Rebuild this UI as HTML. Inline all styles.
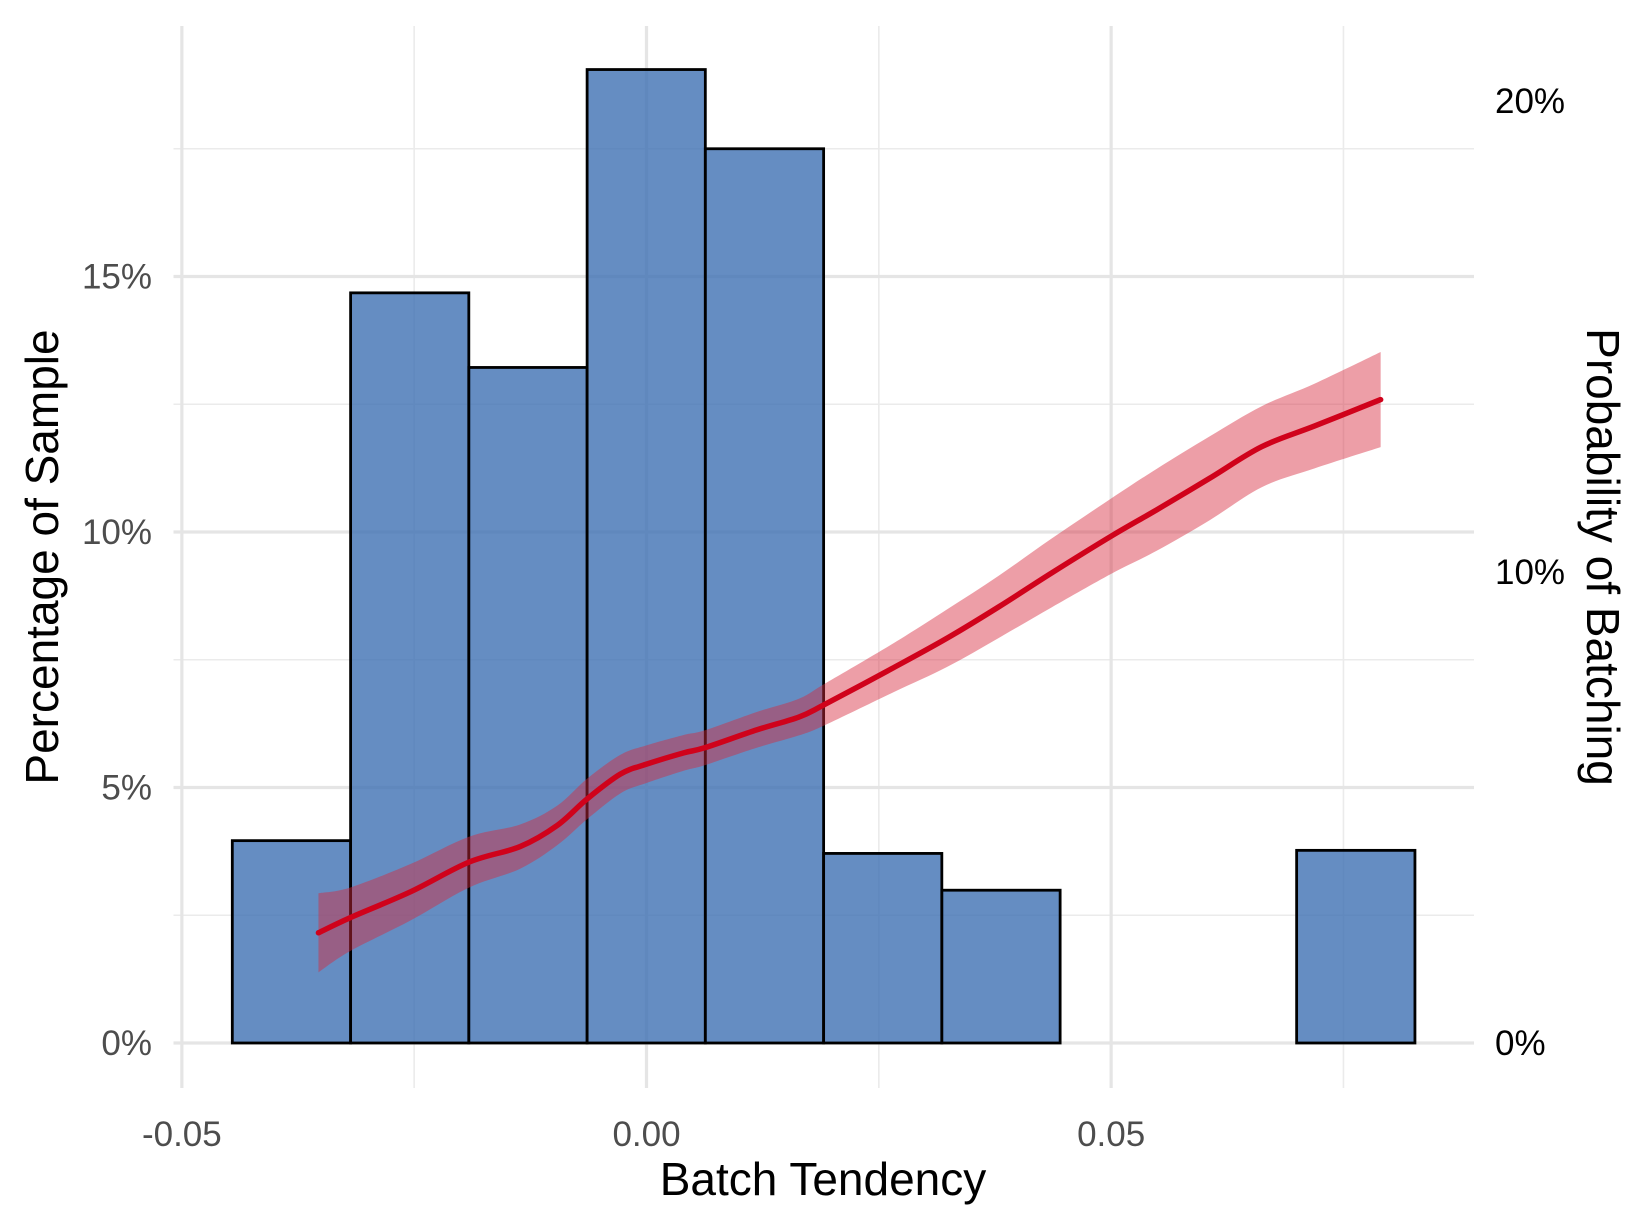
<!DOCTYPE html>
<html><head><meta charset="utf-8"><style>
html,body{margin:0;padding:0;background:#fff;}
svg{display:block;font-family:"Liberation Sans",Arial,sans-serif;}
</style></head><body>
<svg id="chart" width="1647" height="1225" viewBox="0 0 1647 1225" xmlns="http://www.w3.org/2000/svg">
<g id="grid"></g>
<g id="bars"></g>
<g id="smooth"></g>
<g id="axes"></g>
<text x="823" y="1195" text-anchor="middle" font-size="46" fill="#000">Batch Tendency</text>
<text transform="translate(58,557) rotate(-90)" text-anchor="middle" font-size="46" fill="#000">Percentage of Sample</text>
<text transform="translate(1587,557) rotate(90)" text-anchor="middle" font-size="46" fill="#000">Probability of Batching</text>
</svg>
<script>
const binEdges = [-0.04457,-0.03184,-0.01912,-0.00639,0.00633,0.01906,0.03178,0.04451,0.05724,0.06996,0.08269];
const binPct = [3.96,14.68,13.22,19.05,17.5,3.71,2.99,0,0,3.77];
const lineX = [-0.0353,-0.0319,-0.0254,-0.0191,-0.0136,-0.0096,-0.0064,-0.0028,0,0.0040,0.0063,0.0119,0.0164,0.0192,0.0266,0.0323,0.0379,0.0436,0.0500,0.0549,0.0606,0.0662,0.0719,0.0790];
const lineP = [2.34,2.66,3.21,3.84,4.17,4.62,5.18,5.71,5.92,6.16,6.27,6.65,6.92,7.19,7.97,8.59,9.26,9.98,10.76,11.32,11.99,12.66,13.1,13.66];
const lineLo = [1.5,1.95,2.6,3.3,3.7,4.2,4.75,5.3,5.52,5.78,5.9,6.27,6.53,6.75,7.45,7.98,8.6,9.25,9.96,10.45,11.1,11.8,12.2,12.65];
const lineHi = [3.18,3.3,3.8,4.38,4.64,5.04,5.61,6.12,6.32,6.54,6.64,7.03,7.31,7.63,8.49,9.2,9.92,10.71,11.56,12.19,12.88,13.52,14.0,14.67];
const xTicks = [-0.05,0,0.05];
const xTickLabels = ["-0.05","0.00","0.05"];
const xMinor = [-0.025,0.025,0.075];
const yTicks = [0,5,10,15];
const yTickLabels = ["0%","5%","10%","15%"];
const yMinor = [2.5,7.5,12.5,17.5];
const yRTicks = [0,10,20];
const yRTickLabels = ["0%","10%","20%"];

const NS="http://www.w3.org/2000/svg";
function xS(v){return 646.5+v*9293;}
function yL(p){return 1043-p*51.1;}
function yR(p){return 1043-p*47.1;}
function mk(tag,parent,attrs){const e=document.createElementNS(NS,tag);for(const k in attrs)e.setAttribute(k,attrs[k]);parent.appendChild(e);return e;}
function smoothPath(pts,start){
  let d=(start?'M':'L')+pts[0][0]+','+pts[0][1];
  for(let i=0;i<pts.length-1;i++){
    const p0=pts[Math.max(i-1,0)],p1=pts[i],p2=pts[i+1],p3=pts[Math.min(i+2,pts.length-1)];
    const c1=[p1[0]+(p2[0]-p0[0])/6,p1[1]+(p2[1]-p0[1])/6];
    const c2=[p2[0]-(p3[0]-p1[0])/6,p2[1]-(p3[1]-p1[1])/6];
    d+='C'+c1[0]+','+c1[1]+' '+c2[0]+','+c2[1]+' '+p2[0]+','+p2[1];
  }
  return d;
}
const grid=document.getElementById('grid'),bars=document.getElementById('bars'),sm=document.getElementById('smooth'),axes=document.getElementById('axes');
const PX0=173.5,PX1=1474,PY0=26,PY1=1088;
yMinor.forEach(p=>{const l=mk('line',grid,{x1:PX0,x2:PX1,y1:yL(p),y2:yL(p),stroke:'#ebebeb','stroke-width':1.6});

});
xMinor.forEach(v=>{const l=mk('line',grid,{x1:xS(v),x2:xS(v),y1:PY0,y2:PY1,stroke:'#ebebeb','stroke-width':1.6});

});
yTicks.forEach(p=>{const l=mk('line',grid,{x1:PX0,x2:PX1,y1:yL(p),y2:yL(p),stroke:'#e5e5e5','stroke-width':3.2});

});
xTicks.forEach(v=>{const l=mk('line',grid,{x1:xS(v),x2:xS(v),y1:PY0,y2:PY1,stroke:'#e5e5e5','stroke-width':3.2});

});
binPct.forEach((p,i)=>{const x0=xS(binEdges[i]),x1=xS(binEdges[i+1]);
const r=mk('rect',bars,{x:x0,y:yL(p),width:x1-x0,height:yL(0)-yL(p),fill:'rgba(62,112,179,0.8)',stroke:'#000','stroke-width':2.8});

});
const hiPts=lineX.map((v,i)=>[xS(v),yR(lineHi[i])]);
const loPts=lineX.map((v,i)=>[xS(v),yR(lineLo[i])]).reverse();
const band=mk('path',sm,{d:smoothPath(hiPts,true)+smoothPath(loPts,false)+'Z',fill:'rgba(214,40,60,0.45)'});


const ln=mk('path',sm,{d:smoothPath(lineX.map((v,i)=>[xS(v),yR(lineP[i])]),true),fill:'none',stroke:'#d0021b','stroke-width':5.5,'stroke-linejoin':'round','stroke-linecap':'round'});


xTicks.forEach((v,i)=>{const t=mk('text',axes,{x:xS(v),y:1146,'text-anchor':'middle','font-size':35,fill:'#4d4d4d'});t.textContent=xTickLabels[i];

});
yTicks.forEach((p,i)=>{const t=mk('text',axes,{x:152,y:yL(p)+12,'text-anchor':'end','font-size':35,fill:'#4d4d4d'});t.textContent=yTickLabels[i];

});
yRTicks.forEach((p,i)=>{const t=mk('text',axes,{x:1495,y:yR(p)+12,'text-anchor':'start','font-size':35,fill:'#000'});t.textContent=yRTickLabels[i];

});
</script>
</body></html>
